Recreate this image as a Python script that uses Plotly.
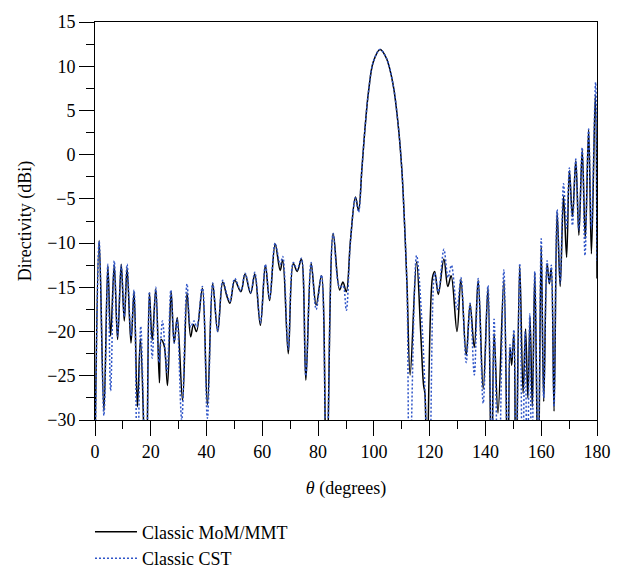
import plotly.graph_objects as go

# Classic MoM/MMT (black solid)
theta_mom = [0.0, 1.5, 3.2, 4.6, 5.6, 6.9, 8.1, 9.4, 10.5, 11.5, 12.9, 14.0, 15.2, 16.3, 18.3,
             19.5, 20.5, 21.8, 23.1, 23.7, 24.8, 26.0, 27.3, 28.4, 29.5, 31.4, 33.0, 34.3, 35.3,
             36.4, 38.5, 40.3, 42.2, 44.0, 45.8, 47.3, 48.4, 50.1, 52.3, 53.8, 55.8, 57.3, 59.3,
             61.1, 62.6, 64.6, 66.4, 67.3, 69.3, 71.1, 72.5, 74.0, 75.6, 77.5, 79.3, 81.2, 83.0,
             85.4, 87.7, 88.9, 90.1, 91.6, 93.4, 94.5, 95.7, 96.9, 98.1, 99.8, 102.2, 104.5,
             106.9, 108.6, 110.0, 111.0, 111.9, 113.0, 115.3, 116.8, 117.8, 118.3, 119.0, 121.0,
             121.8, 123.1, 125.1, 126.5, 127.7, 129.8, 131.2, 133.1, 134.5, 136.0, 137.4, 139.2,
             140.9, 142.2, 143.1, 144.5, 146.6, 148.0, 148.8, 149.4, 150.2, 150.9, 152.3, 153.5,
             154.4, 155.2, 156.0, 156.8, 157.7, 158.9, 160.0, 160.9, 162.1, 162.9, 163.6, 164.6,
             165.7, 166.8, 168.0, 169.1, 170.1, 171.2, 172.4, 173.5, 174.7, 175.8, 177.0, 178.0,
             179.4, 180.0]
d_mom = [-34.0, -9.7, -29.0, -12.6, -20.5, -12.5, -20.9, -12.4, -18.8, -12.8, -21.3, -15.5, -28.5,
         -20.8, -38.0, -15.6, -21.0, -15.2, -25.8, -20.9, -21.6, -26.1, -15.5, -21.3, -18.4,
         -27.8, -15.6, -20.6, -19.2, -20.0, -15.1, -28.3, -14.6, -20.0, -14.4, -16.0, -16.8,
         -14.2, -15.5, -13.5, -15.7, -13.5, -19.3, -12.5, -16.5, -10.1, -13.1, -11.9, -22.5,
         -12.3, -13.2, -11.8, -25.5, -12.3, -17.0, -13.7, -38.0, -8.9, -15.3, -14.4, -15.5,
         -9.7, -4.8, -6.3, -1.6, 3.3, 7.2, 10.5, 11.9, 10.9, 7.9, 3.7, -1.6, -7.9, -14.9,
         -24.9, -12.1, -20.2, -26.0, -27.0, -38.0, -13.9, -13.2, -15.8, -11.8, -14.9, -13.7,
         -20.0, -14.1, -22.7, -16.9, -21.8, -14.2, -26.5, -15.1, -38.0, -20.2, -29.2, -14.2,
         -38.0, -21.8, -23.8, -20.2, -38.0, -12.6, -27.0, -19.7, -27.5, -18.4, -28.5, -13.4,
         -38.0, -10.4, -27.9, -12.3, -14.6, -12.8, -29.0, -6.5, -14.9, -4.7, -11.6, -1.8, -7.0,
         -0.7, -9.1, 0.5, -9.5, 2.8, -11.2, 6.8, -14.0]

# Classic CST (blue dotted)
theta_cst = [0.0, 1.5, 3.2, 4.6, 5.6, 6.9, 8.1, 9.4, 10.5, 11.5, 12.9, 14.0, 15.2, 16.4, 18.3,
             19.5, 20.5, 21.8, 23.0, 24.2, 25.8, 27.2, 28.4, 29.4, 31.1, 33.0, 34.3, 35.5, 36.5,
             38.5, 40.3, 42.2, 44.0, 45.8, 47.3, 48.4, 50.1, 52.3, 53.8, 55.8, 57.3, 59.3, 61.1,
             62.6, 64.6, 66.4, 67.3, 69.3, 71.1, 72.5, 74.0, 75.6, 77.5, 79.3, 81.2, 83.0, 85.4,
             87.7, 88.9, 90.1, 91.6, 93.4, 94.5, 95.7, 96.9, 98.1, 99.8, 102.2, 104.5, 106.9,
             108.6, 110.0, 111.0, 111.9, 112.8, 115.3, 117.5, 119.8, 121.8, 123.1, 125.1, 126.6,
             127.8, 129.8, 131.2, 133.1, 134.5, 136.0, 137.4, 139.2, 140.9, 142.3, 143.1, 144.7,
             146.6, 148.0, 148.8, 149.4, 150.2, 151.0, 152.3, 153.3, 154.2, 155.0, 155.9, 156.6,
             157.7, 158.9, 160.0, 160.9, 162.1, 162.9, 163.6, 164.6, 165.7, 166.8, 168.0, 169.1,
             170.1, 171.2, 172.4, 173.5, 174.7, 175.7, 177.0, 178.0, 179.5, 180.0]
d_cst = [-36.0, -9.8, -29.5, -12.4, -26.7, -12.0, -20.5, -12.5, -18.3, -12.4, -20.5, -15.3, -38.0,
         -19.4, -38.0, -15.5, -23.0, -15.0, -23.5, -18.8, -24.6, -15.3, -21.3, -18.6, -30.0,
         -14.6, -19.5, -18.8, -19.5, -14.9, -29.8, -14.5, -20.0, -14.2, -15.8, -16.6, -14.0,
         -15.4, -13.4, -15.6, -13.3, -19.0, -12.4, -16.3, -10.0, -12.4, -11.5, -22.0, -12.2,
         -13.0, -11.7, -25.0, -12.2, -17.5, -13.6, -38.0, -8.9, -15.0, -14.8, -17.6, -9.8,
         -4.9, -6.5, -1.6, 3.3, 7.2, 10.5, 11.9, 10.9, 7.9, 3.7, -1.6, -7.9, -15.5, -38.0,
         -11.4, -20.5, -38.0, -13.4, -15.5, -10.7, -13.9, -12.5, -17.5, -13.9, -23.5, -16.8,
         -24.9, -14.0, -28.1, -14.8, -38.0, -18.6, -38.0, -13.0, -38.0, -21.5, -23.0, -19.8,
         -38.0, -12.3, -38.0, -20.0, -38.0, -18.0, -38.0, -13.2, -35.0, -9.5, -27.5, -12.0,
         -14.5, -12.5, -28.5, -6.2, -14.5, -3.3, -8.3, -1.5, -8.0, -0.5, -8.5, 0.8, -11.4, 2.9,
         -8.3, 8.2, -12.0]

x_ticks = [0, 20, 40, 60, 80, 100, 120, 140, 160, 180]
y_ticks = [15, 10, 5, 0, -5, -10, -15, -20, -25, -30]

FONT = "Liberation Serif, Times New Roman, serif"

fig = go.Figure()
fig.add_trace(go.Scatter(
    x=theta_mom, y=d_mom, mode="lines", name="Classic MoM/MMT",
    line=dict(color="black", width=1.5, shape="spline", smoothing=1.0),
))
fig.add_trace(go.Scatter(
    x=theta_cst, y=d_cst, mode="lines", name="Classic CST",
    line=dict(color="#2f55c8", width=1.5, dash="2px,2px", shape="spline", smoothing=1.0),
))

axis_common = dict(
    showline=True, linecolor="black", linewidth=1, mirror=True,
    ticks="outside", ticklen=15, tickwidth=1, tickcolor="black",
    showgrid=False, zeroline=False,
    tickfont=dict(family=FONT, size=18, color="black"),
)

fig.update_xaxes(
    range=[0, 180], tickvals=x_ticks, ticktext=[str(v) for v in x_ticks],
    minor=dict(dtick=10, tick0=0, ticks="outside", ticklen=8, tickcolor="black", showgrid=False),
    title=dict(text="<i>θ</i> (degrees)", font=dict(family=FONT, size=18, color="black"), standoff=20),
    **axis_common,
)
fig.update_yaxes(
    range=[-30, 15], tickvals=y_ticks,
    ticktext=[str(v).replace("-", "\u2212") for v in y_ticks],
    minor=dict(dtick=2.5, tick0=0, ticks="outside", ticklen=8, tickcolor="black", showgrid=False),
    title=dict(text="Directivity (dBi)", font=dict(family=FONT, size=18, color="black"), standoff=10),
    **axis_common,
)

fig.update_layout(
    width=623, height=588,
    margin=dict(l=95, r=16, t=16, b=145),
    paper_bgcolor="white", plot_bgcolor="white",
    font=dict(family=FONT, size=18, color="black"),
    showlegend=True,
    legend=dict(
        x=-0.01, y=-0.235, xanchor="left", yanchor="top",
        bgcolor="rgba(0,0,0,0)", borderwidth=0,
        font=dict(family=FONT, size=18, color="black"),
        tracegroupgap=0, itemwidth=42,
    ),
)

fig.write_html("out.html")
